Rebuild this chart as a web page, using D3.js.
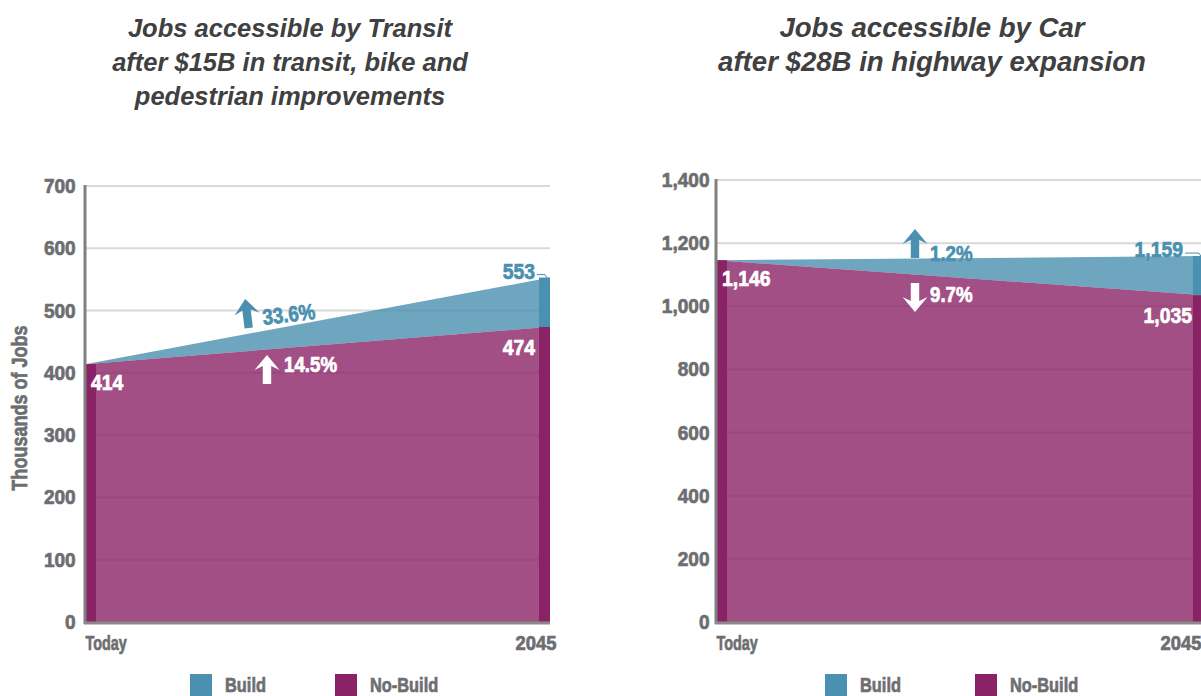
<!DOCTYPE html>
<html>
<head>
<meta charset="utf-8">
<script src="https://cdn.jsdelivr.net/npm/d3@7"></script>
<style>
body { margin: 0; background: #fff; }
text { font-family: 'Liberation Sans', Arial, sans-serif; }
.title { font-weight: bold; font-style: italic; fill: #404040; }
.lab { font-weight: bold; fill: #6d6e71; stroke: #6d6e71; stroke-width: 0.7px; }
</style>
</head>
<body>
<script>
// data
const categories = ["Today", "2045"];
const seriesNames = ["Build", "No-Build"];
const transitBuild = [414, 553];
const transitNoBuild = [414, 474];
const carBuild = [1146, 1159];
const carNoBuild = [1146, 1035];
const transitTicks = [0, 100, 200, 300, 400, 500, 600, 700];
const carTicks = [0, 200, 400, 600, 800, 1000, 1200, 1400];
const transitChange = ["33.6%", "14.5%"];
const carChange = ["1.2%", "9.7%"];

const W = 1201, H = 696, bottom = 622;
const blue = "#4a90b0", purple = "#8a2366", gray = "#6d6e71";
const fmt = d3.format(",");

const svg = d3.select('body').append('svg')
    .attr('width', W)
    .attr('height', H);

function arrowPath(up) {
    const s = up ? 1 : -1;
    return "M0," + (-15 * s) + " L12.5," + (0 * s) + " L4.2," + (-4 * s) + " L4.2," + (14 * s) +
        " L-4.2," + (14 * s) + " L-4.2," + (-4 * s) + " L-12.5," + (0 * s) + " Z";
}

// narrow text helper: place at x,y and squeeze horizontally
function ntext(g, x, y, str, size, sx, fill, anchor) {
    return g.append('text')
        .attr('transform', 'translate(' + x + ',' + y + ') scale(' + sx + ',1)')
        .attr('text-anchor', anchor || 'start')
        .attr('font-size', size).attr('font-weight', 'bold')
        .attr('fill', fill).attr('stroke', fill).attr('stroke-width', 0.7)
        .text(str);
}

function drawChart(o) {
    const g = svg.append('g');
    const x = d3.scalePoint().domain(categories).range([o.x0, o.x1]);
    const y = d3.scaleLinear().domain([0, d3.max(o.ticks)]).range([bottom, o.yTop]);

    // title
    g.append('text').attr('class', 'title').attr('text-anchor', 'middle')
        .attr('font-size', o.titleSize)
        .selectAll('tspan').data(o.title).enter().append('tspan')
        .attr('x', o.titleX).attr('y', (d, i) => 37 + i * 34).text(d => d);

    // grid
    g.selectAll('.grid').data(o.ticks.slice(1)).enter().append('line')
        .attr('x1', o.x0).attr('x2', o.x1)
        .attr('y1', d => y(d)).attr('y2', d => y(d))
        .attr('stroke', '#d9d9d9').attr('stroke-width', 2);

    const rows = categories.map((c, i) => ({ c: c, build: o.build[i], noBuild: o.noBuild[i] }));

    const buildArea = d3.area().x(d => x(d.c)).y0(d => y(d.noBuild)).y1(d => y(d.build));
    const noBuildArea = d3.area().x(d => x(d.c)).y0(y(0)).y1(d => y(d.noBuild));

    g.append('path').datum(rows).attr('d', buildArea).attr('fill', blue).attr('fill-opacity', 0.8);
    g.append('path').datum(rows).attr('d', noBuildArea).attr('fill', purple).attr('fill-opacity', 0.8);

    // solid strips at each end
    const sw = 11;
    const sx = (d, i) => i === 0 ? x(d.c) : x(d.c) - sw;
    g.selectAll('.sNo').data(rows).enter().append('rect')
        .attr('x', sx).attr('width', sw)
        .attr('y', d => y(d.noBuild)).attr('height', d => y(0) - y(d.noBuild))
        .attr('fill', purple);
    g.selectAll('.sB').data(rows.filter(d => d.build > d.noBuild)).enter().append('rect')
        .attr('x', d => x(d.c) - sw).attr('width', sw)
        .attr('y', d => y(d.build)).attr('height', d => y(d.noBuild) - y(d.build))
        .attr('fill', blue);

    // axis lines
    g.append('line').attr('x1', o.x0).attr('x2', o.x0).attr('y1', y(d3.max(o.ticks)) - 1).attr('y2', bottom + 2)
        .attr('stroke', '#808080').attr('stroke-width', 3);
    g.append('line').attr('x1', o.x0 - 1).attr('x2', o.x1).attr('y1', bottom + 1).attr('y2', bottom + 1)
        .attr('stroke', '#8a8a8a').attr('stroke-width', 3);

    // y axis
    const ya = g.append('g').attr('transform', 'translate(' + o.x0 + ',0)')
        .call(d3.axisLeft(y).tickValues(o.ticks).tickSize(0).tickPadding(o.pad).tickFormat(fmt));
    ya.select('.domain').remove();
    ya.selectAll('text').attr('class', 'lab').attr('font-family', null)
        .attr('font-size', 20.5).attr('transform', 'scale(0.93,1)');

    // x axis
    const xa = g.append('g').attr('transform', 'translate(0,' + bottom + ')')
        .call(d3.axisBottom(x).tickSize(0).tickPadding(14));
    xa.select('.domain').remove();
    xa.selectAll('text').attr('class', 'lab').attr('font-family', null).attr('font-size', 20)
        .attr('text-anchor', (d, i) => i === 0 ? 'start' : 'end')
        .attr('transform', (d, i) => i === 0 ? 'scale(0.72,1)' : 'translate(' + o.endTickDx + ',0) scale(0.92,1)');

    // value labels
    ntext(g, o.x0 + 6, y(o.noBuild[0]) + 26, fmt(o.noBuild[0]), 22, 0.88, '#fff');
    ntext(g, o.x1 - o.endDx, y(o.noBuild[1]) + 28, fmt(o.noBuild[1]), 22, 0.88, '#fff', 'end');
    const bx = o.x1 - o.buildDx, by = y(o.build[1]) + 1;
    ntext(g, bx, by, fmt(o.build[1]), 22, 0.88, blue, 'end');
    g.append('path')
        .attr('d', 'M' + (bx + 2) + ',' + (by - 4) + ' H' + (o.x1 - 5) + ' L' + (o.x1 - 2) + ',' + (by + 1))
        .attr('fill', 'none').attr('stroke', blue).attr('stroke-width', 1);

    // change annotations
    o.notes.forEach(n => {
        const ng = g.append('g').attr('transform', 'translate(' + n.ax + ',' + n.ay + ') rotate(' + n.rot + ')');
        ng.append('path').attr('d', arrowPath(n.up)).attr('fill', n.color);
        ntext(ng, n.tx, n.ty, n.label, 22, 0.85, n.color);
    });

    // legend
    const lg = g.selectAll('.leg').data(seriesNames).enter().append('g')
        .attr('transform', (d, i) => 'translate(' + o.legX[i] + ',674)');
    lg.append('rect').attr('width', 22).attr('height', 24)
        .attr('fill', (d, i) => i === 0 ? blue : purple);
    lg.append('text').attr('class', 'lab').attr('font-size', 21)
        .attr('transform', 'translate(35,17.5) scale(0.78,1)')
        .text(d => d);

    if (o.yTitle) {
        g.append('text').attr('class', 'lab').attr('font-size', 22).attr('text-anchor', 'middle')
            .attr('transform', 'translate(27,408) rotate(-90) scale(0.82,1)')
            .text(o.yTitle);
    }
}

drawChart({
    x0: 85, x1: 550, yTop: 186, pad: 10, ticks: transitTicks,
    build: transitBuild, noBuild: transitNoBuild,
    title: ["Jobs accessible by Transit", "after $15B in transit, bike and", "pedestrian improvements"],
    titleX: 290, titleSize: 25.5, endDx: 15, buildDx: 15, endTickDx: 6,
    yTitle: "Thousands of Jobs",
    legX: [190, 335],
    notes: [
        { label: transitChange[0], up: true, color: blue, ax: 247, ay: 314, rot: -7, tx: 15, ty: 13 },
        { label: transitChange[1], up: true, color: '#fff', ax: 267, ay: 370, rot: 0, tx: 17, ty: 2 }
    ]
});

drawChart({
    x0: 716, x1: 1204, yTop: 180, pad: 7, ticks: carTicks,
    build: carBuild, noBuild: carNoBuild,
    title: ["Jobs accessible by Car", "after $28B in highway expansion"],
    titleX: 932, titleSize: 27.6, endDx: 12, buildDx: 21, endTickDx: -3,
    yTitle: null,
    legX: [825, 975],
    notes: [
        { label: carChange[0], up: true, color: blue, ax: 915, ay: 244, rot: 0, tx: 15, ty: 17 },
        { label: carChange[1], up: false, color: '#fff', ax: 915, ay: 297, rot: 0, tx: 15, ty: 5 }
    ]
});
</script>
</body>
</html>
